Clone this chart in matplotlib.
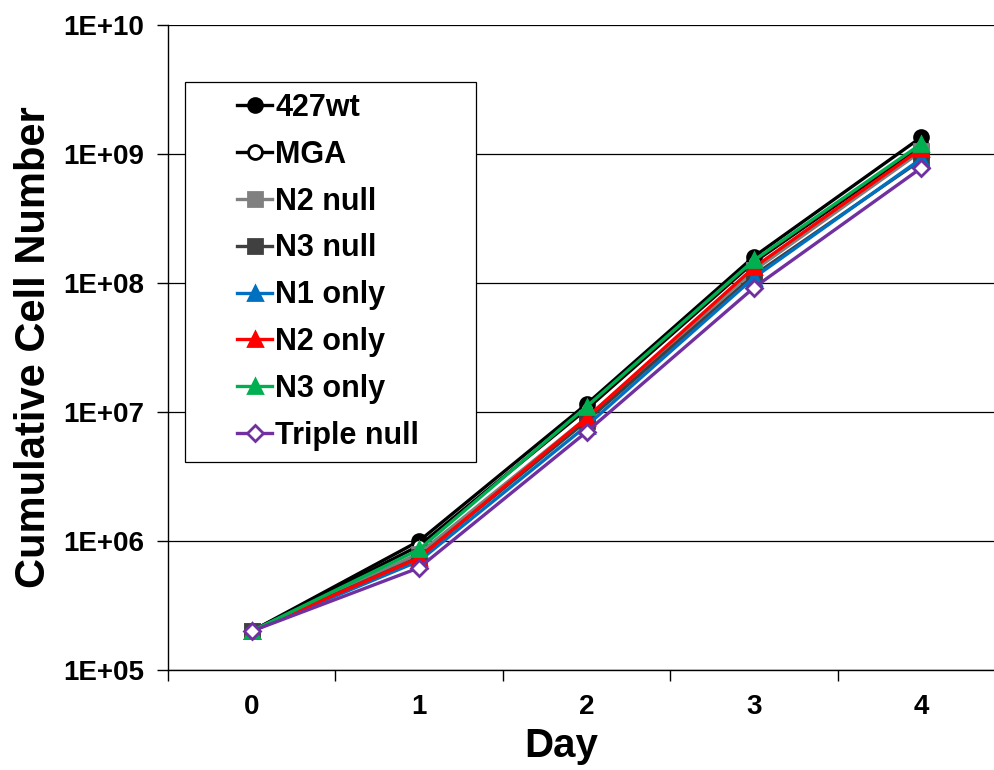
import matplotlib
matplotlib.use("Agg")
import matplotlib.pyplot as plt
from matplotlib.ticker import FixedLocator, NullLocator
from matplotlib.patches import Rectangle

plt.rcParams['font.family'] = ['Liberation Sans', 'DejaVu Sans']
plt.rcParams['font.weight'] = 'bold'

days = [0, 1, 2, 3, 4]
series_names = ["427wt", "MGA", "N2 null", "N3 null", "N1 only", "N2 only", "N3 only", "Triple null"]
wt427 = [2.0e5, 1.0e6, 1.15e7, 1.6e8, 1.35e9]
mga = [2.0e5, 9.2e5, 1.05e7, 1.45e8, 1.15e9]
n2null = [2.0e5, 8.0e5, 9.0e6, 1.25e8, 1.05e9]
n3null = [2.0e5, 7.5e5, 8.5e6, 1.15e8, 9.0e8]
n1only = [2.0e5, 7.0e5, 7.8e6, 1.1e8, 9.2e8]
n2only = [2.0e5, 7.4e5, 9.0e6, 1.32e8, 1.1e9]
n3only = [2.0e5, 8.6e5, 1.1e7, 1.5e8, 1.2e9]
triple = [2.0e5, 6.2e5, 7.0e6, 9.2e7, 7.8e8]
y_ticks = [1e5, 1e6, 1e7, 1e8, 1e9, 1e10]
y_tick_labels = ["1E+05", "1E+06", "1E+07", "1E+08", "1E+09", "1E+10"]

styles = [
    dict(color="black", marker="o", mfc="black", mec="black"),
    dict(color="black", marker="o", mfc="white", mec="black"),
    dict(color="#808080", marker="s", mfc="#808080", mec="#808080"),
    dict(color="#404040", marker="s", mfc="#404040", mec="#404040"),
    dict(color="#0070C0", marker="^", mfc="#0070C0", mec="#0070C0"),
    dict(color="#FF0000", marker="^", mfc="#FF0000", mec="#FF0000"),
    dict(color="#00B050", marker="^", mfc="#00B050", mec="#00B050"),
    dict(color="#7030A0", marker="D", mfc="white", mec="#7030A0"),
]
data = [wt427, mga, n2null, n3null, n1only, n2only, n3only, triple]

fig = plt.figure(figsize=(9.94, 7.70), dpi=100)
ax = fig.add_axes([168/994, 100/770, (1005-168)/994, 645/770])

for name, vals, st in zip(series_names, data, styles):
    ms = 8 if st["marker"] == "D" else 10
    ax.plot(days, vals, label=name, lw=2.4, ms=ms, mew=2, **st)

ax.set_yscale("log")
ax.set_ylim(1e5, 1e10)
ax.set_xlim(-0.5, 4.5)
ax.yaxis.set_major_locator(FixedLocator(y_ticks))
ax.yaxis.set_minor_locator(NullLocator())
ax.set_yticks(y_ticks)
ax.set_yticklabels(y_tick_labels)
ax.set_xticks(days)
ax.set_xticklabels([str(d) for d in days])
ax.set_xticks([-0.5, 0.5, 1.5, 2.5, 3.5, 4.5], minor=True)
ax.tick_params(axis="x", which="major", length=0, labelsize=20, pad=17)
ax.tick_params(axis="x", which="minor", length=8, width=1, direction="out")
ax.tick_params(axis="y", which="major", length=8, width=1, direction="out", labelsize=20, pad=9)
ax.grid(axis="y", which="major", color="black", lw=0.9)
for s in ["top", "right"]:
    ax.spines[s].set_visible(False)
ax.spines["left"].set_linewidth(1.0)
ax.spines["bottom"].set_linewidth(1.0)

ax.set_xlabel("Day", fontsize=29, fontweight="bold")
ax.xaxis.set_label_coords((561-168)/837, (670-727)/645)
ax.set_ylabel("Cumulative Cell Number", fontsize=30, fontweight="bold", labelpad=7)

# legend frame drawn separately
ax.add_patch(Rectangle((17/837, (670-462)/645), 291/837, 380/645, transform=ax.transAxes,
                       facecolor="white", edgecolor="black", lw=0.9, zorder=5))
leg = ax.legend(loc="upper left", bbox_to_anchor=((237-168)/837, (670-93)/645), fontsize=22,
                frameon=False, handlelength=1.15, handletextpad=0.1, labelspacing=0.55,
                borderpad=0, borderaxespad=0)
leg.set_zorder(6)
for t in leg.get_texts():
    t.set_fontweight("bold")

fig.savefig("out.png", dpi=100)
